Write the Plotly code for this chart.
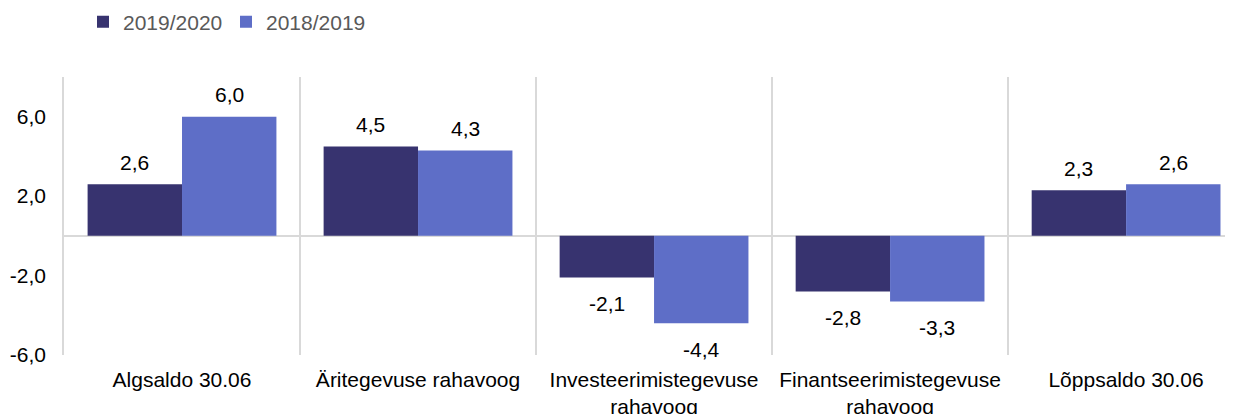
import plotly.graph_objects as go

categories = ["Algsaldo 30.06", "Äritegevuse rahavoog", "Investeerimistegevuse<br>rahavoog",
              "Finantseerimistegevuse<br>rahavoog", "Lõppsaldo 30.06"]
series_names = ["2019/2020", "2018/2019"]
values_2019_2020 = [2.6, 4.5, -2.1, -2.8, 2.3]
values_2018_2019 = [6.0, 4.3, -4.4, -3.3, 2.6]
y_ticks = [-6, -2, 2, 6]


def fmt(v):
    return f"{v:.1f}".replace(".", ",")


colors = ["#37336f", "#5e6ec7"]
FONT = "Liberation Sans, Arial, sans-serif"
FS = 21
W, H = 1225, 406  # page body adds an 8px offset

fig = go.Figure()
for name, vals, col in zip(series_names, [values_2019_2020, values_2018_2019], colors):
    fig.add_trace(go.Bar(x=categories, y=vals, name=name, marker=dict(color=col, line=dict(width=0))))

annotations = []
for shift, vals in zip([-47.2, 47.2], [values_2019_2020, values_2018_2019]):
    for c, v in zip(categories, vals):
        annotations.append(dict(
            x=c, y=v, xref="x", yref="y", text=fmt(v),
            showarrow=False, xshift=shift, yshift=22 if v >= 0 else -26,
            yanchor="middle", font=dict(size=FS, color="#000000", family=FONT)))

fig.update_layout(
    width=W, height=H,
    margin=dict(l=56, r=0, t=69, b=59, autoexpand=False),
    paper_bgcolor="white", plot_bgcolor="white",
    barmode="group", bargap=0.2, bargroupgap=0,
    font=dict(family=FONT, size=FS, color="#000000"),
    showlegend=True,
    legend=dict(orientation="h", xref="container", yref="container", x=75 / W, y=1 - 14 / H,
                xanchor="left", yanchor="middle", font=dict(size=FS, color="#595959"),
                entrywidth=98, entrywidthmode="pixels", traceorder="normal"),
    annotations=annotations,
)
fig.update_xaxes(range=[-0.5, 4.453], tickson="boundaries", showgrid=True, gridcolor="#d9d9d9",
                 gridwidth=1.5, ticks="", showline=False, zeroline=False, automargin=False,
                 ticklabelstandoff=10, tickfont=dict(size=FS, color="#000000"))
fig.update_yaxes(range=[-6, 8], tickvals=y_ticks, ticktext=[fmt(v) for v in y_ticks],
                 showgrid=False, showline=True, linecolor="#d9d9d9", linewidth=1.5,
                 zeroline=True, zerolinecolor="#d9d9d9", zerolinewidth=1.5, automargin=False,
                 ticks="", ticklabelstandoff=12, tickfont=dict(size=FS, color="#000000"))

fig.write_html("out.html")
